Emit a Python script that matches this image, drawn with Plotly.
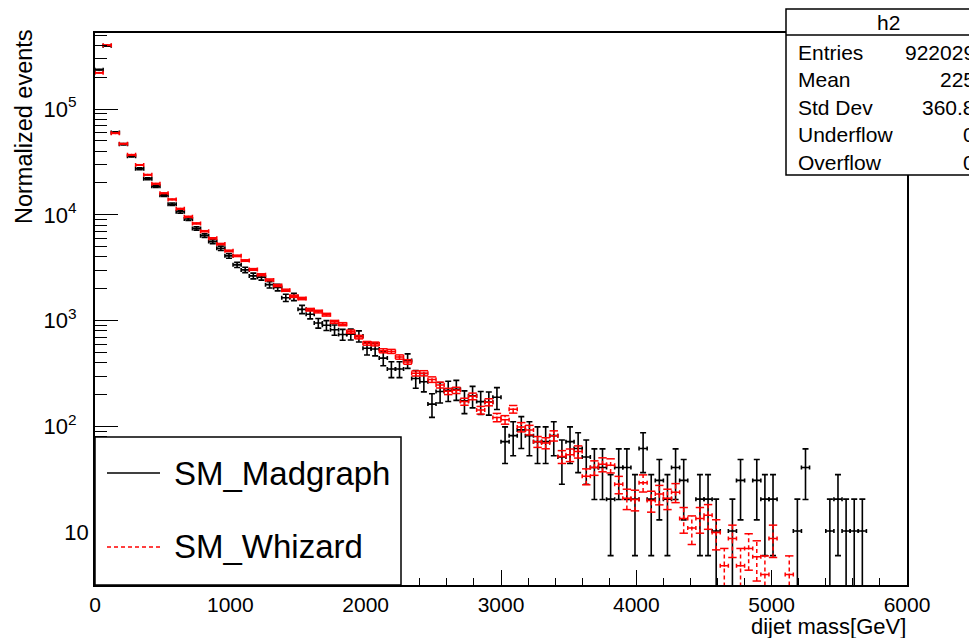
import numpy as np
import plotly.graph_objects as go

# binning: 100 bins of 60 GeV from 0 to 6000
bin_width = 60
n_bins = 100
bin_centers = np.arange(n_bins) * bin_width + bin_width / 2

# Normalized events per bin, 0 = empty bin
madgraph = [
    2.35e5, 3.95e5, 6.0e4, 4.65e4, 3.58e4, 2.73e4, 2.19e4, 1.86e4, 1.53e4, 1.26e4,
    1.07e4, 9150, 7450, 6360, 5590, 4840, 4100, 3370, 3020, 2650,
    2580, 2190, 2060, 1650, 1680, 1280, 1150, 950, 905, 820,
    740, 745, 715, 550, 540, 443, 350, 350, 420, 284,
    265, 163, 214, 220, 225, 175, 195, 172, 170, 189,
    72, 82, 93, 82, 72, 72, 82, 51.5, 72, 62,
    51.5, 41, 41, 20.6, 41, 41, 20.6, 62, 20.6, 31,
    20.6, 41, 31, 0, 20.6, 20.6, 10.3, 0, 10.3, 31,
    0, 31, 20.6, 20.6, 0, 0, 10.3, 41, 0, 0,
    10.3, 20.6, 10.3, 10.3, 10.3, 0, 0, 0, 0, 0,
]
whizard = [
    2.2e5, 4.0e5, 5.9e4, 4.7e4, 3.69e4, 2.96e4, 2.39e4, 1.97e4, 1.6e4, 1.4e4,
    1.14e4, 9600, 8300, 7000, 6000, 5300, 4570, 4100, 3700, 3050,
    2720, 2430, 2150, 1940, 1700, 1620, 1270, 1220, 1140, 975,
    928, 788, 700, 612, 603, 520, 513, 454, 408, 318,
    319, 278, 247, 215, 220, 172, 193, 143, 170, 122,
    116, 146, 99, 93, 72, 70, 82, 52, 54, 58,
    34, 41, 44, 43, 28.5, 21, 20.5, 29.5, 20, 23,
    21, 24, 13.5, 11, 13.5, 14.5, 10, 4.85, 8.75, 4.85,
    7.05, 5.9, 4.0, 8.75, 0, 4.0, 0, 0, 0, 0,
    0, 0, 0, 0, 0, 0, 0, 0, 0, 0,
]
# per-event weights (error = sqrt(n) * w)
w_madgraph = 10.3
w_whizard = 1.0

stats_labels = ["Entries", "Mean", "Std Dev", "Underflow", "Overflow"]
stats_values = ["922029", "225", "360.8", "0", "0"]

FONT = "Liberation Sans, Arial, sans-serif"

# figure size (page has an 8px body margin) and frame margins
W, H = 969, 630
L, R, T, B = 87, 70, 25, 53
pw, ph = W - L - R, H - T - B


# helpers: page pixel -> paper coordinates
def px(x):
    return (x - 8 - L) / pw


def py(y):
    return (H - B - (y - 8)) / ph


fig = go.Figure()

# Madgraph, solid black error bars
mg = np.array(madgraph)
m = mg > 0
fig.add_trace(go.Scatter(
    x=bin_centers[m], y=mg[m], mode="markers",
    marker=dict(size=2, color="black"),
    error_x=dict(type="constant", value=bin_width / 2, color="black", thickness=1.6, width=2),
    error_y=dict(type="data", array=np.sqrt(mg[m] * w_madgraph), color="black", thickness=1.6, width=3),
    showlegend=False,
))

# Whizard, red with dashed vertical error bars
wz = np.array(whizard)
m = wz > 0
xr, yr = bin_centers[m], wz[m]
er = np.sqrt(yr * w_whizard)
fig.add_trace(go.Scatter(
    x=xr, y=yr, mode="markers",
    marker=dict(size=2, color="red"),
    error_x=dict(type="constant", value=bin_width / 2, color="red", thickness=1.5, width=2),
    showlegend=False,
))
seg_x, seg_y = [], []
for x, y, e in zip(xr, yr, er):
    seg_x += [x, x, None]
    seg_y += [max(y - e, 1e-3), y + e, None]
fig.add_trace(go.Scatter(
    x=seg_x, y=seg_y, mode="lines",
    line=dict(color="red", width=1.5, dash="4px,3px"),
    showlegend=False,
))
lo = yr - er
cap_x = list(xr) + list(xr[lo > 0])
cap_y = list(yr + er) + list(lo[lo > 0])
fig.add_trace(go.Scatter(
    x=cap_x, y=cap_y, mode="markers",
    marker=dict(symbol="line-ew", size=6, line=dict(color="red", width=1.5)),
    showlegend=False,
))

shapes = []
annotations = []

# legend box
shapes.append(dict(type="rect", xref="paper", yref="paper",
                   x0=px(95), x1=px(401), y0=py(585), y1=py(437),
                   line=dict(color="black", width=1.5), fillcolor="white", layer="above"))
shapes.append(dict(type="line", xref="paper", yref="paper",
                   x0=px(107), x1=px(160), y0=py(473), y1=py(473),
                   line=dict(color="black", width=1.5)))
shapes.append(dict(type="line", xref="paper", yref="paper",
                   x0=px(107), x1=px(160), y0=py(547), y1=py(547),
                   line=dict(color="red", width=1.5, dash="4px,3px")))
for name, yy in [("SM_Madgraph", 473), ("SM_Whizard", 546)]:
    annotations.append(dict(text=name, xref="paper", yref="paper", x=px(172), y=py(yy),
                            xanchor="left", yanchor="middle", showarrow=False,
                            font=dict(size=33, family=FONT, color="black")))

# stats box
shapes.append(dict(type="rect", xref="paper", yref="paper",
                   x0=px(786), x1=px(1000), y0=py(175), y1=py(9),
                   line=dict(color="black", width=1.5), fillcolor="white", layer="above"))
shapes.append(dict(type="line", xref="paper", yref="paper",
                   x0=px(786), x1=px(1000), y0=py(35), y1=py(35),
                   line=dict(color="black", width=1.5)))
annotations.append(dict(text="h2", xref="paper", yref="paper", x=px(888), y=py(22),
                        xanchor="center", yanchor="middle", showarrow=False,
                        font=dict(size=21, family=FONT, color="black")))
for i, (lab, val) in enumerate(zip(stats_labels, stats_values)):
    yy = 52 + i * 27.5
    annotations.append(dict(text=lab, xref="paper", yref="paper", x=px(796), y=py(yy),
                            xanchor="left", yanchor="middle", showarrow=False,
                            font=dict(size=21, family=FONT, color="black")))
    annotations.append(dict(text=val, xref="paper", yref="paper", x=px(977), y=py(yy),
                            xanchor="right", yanchor="middle", showarrow=False,
                            font=dict(size=21, family=FONT, color="black")))

# axis titles (ROOT style, aligned to the axis end)
annotations.append(dict(text="dijet mass[GeV]", xref="paper", yref="paper", x=1, y=py(626),
                        xanchor="right", yanchor="middle", showarrow=False, borderpad=0,
                        font=dict(size=22, family=FONT, color="black")))
annotations.append(dict(text="Normalized events", xref="paper", yref="paper", x=px(24), y=py(127),
                        xanchor="center", yanchor="middle", showarrow=False, textangle=-90,
                        font=dict(size=23.5, family=FONT, color="black")))

fig.update_layout(
    width=W, height=H,
    margin=dict(l=L, r=R, t=T, b=B),
    plot_bgcolor="white", paper_bgcolor="white",
    shapes=shapes, annotations=annotations,
    showlegend=False,
    font=dict(family=FONT, size=22, color="black"),
)
fig.update_xaxes(
    range=[0, 6000], showgrid=False, zeroline=False,
    showline=True, mirror=True, linecolor="black", linewidth=1.5,
    ticks="inside", ticklen=15, tickwidth=1.2, tickcolor="black",
    tickvals=[0, 1000, 2000, 3000, 4000, 5000, 6000],
    minor=dict(ticks="inside", ticklen=7, tickwidth=1.2, tickcolor="black", dtick=200, showgrid=False),
    tickfont=dict(size=21, family=FONT, color="black"),
)
fig.update_yaxes(
    type="log", range=[0.503, 5.718], showgrid=False, zeroline=False,
    showline=True, mirror=True, linecolor="black", linewidth=1.5,
    ticks="inside", ticklen=23, tickwidth=1.2, tickcolor="black",
    tickvals=[10, 100, 1000, 10000, 100000],
    ticktext=["10", "10<sup>2</sup>&nbsp;&nbsp;", "10<sup>3</sup>&nbsp;&nbsp;",
              "10<sup>4</sup>&nbsp;&nbsp;", "10<sup>5</sup>&nbsp;&nbsp;"],
    minor=dict(ticks="inside", ticklen=12, tickwidth=1.2, tickcolor="black", dtick="D1", showgrid=False),
    tickfont=dict(size=22, family=FONT, color="black"),
)

fig.write_html("out.html")
